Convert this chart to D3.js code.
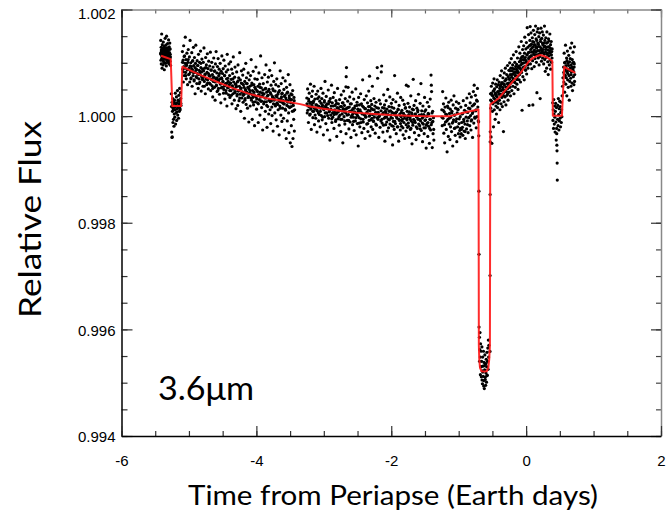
<!DOCTYPE html>
<html>
<head>
<meta charset="utf-8">
<script src="https://cdn.jsdelivr.net/npm/d3@7"></script>
<style>
  html, body { margin: 0; padding: 0; background: #fff; }
  svg { display: block; }
</style>
</head>
<body>
<svg id="chart" width="666" height="514"></svg>
<script>
// Axis ticks and labels
const xTicks = [-6, -4, -2, 0, 2];
const yTicks = [0.994, 0.996, 0.998, 1.000, 1.002];
const xTitle = "Time from Periapse (Earth days)";
const yTitle = "Relative Flux";
const bandLabel = "3.6\u03bcm";

// Photometry: [time from periapse (days), flux offset from 1 (ppm)]
const obsEarly = [[-5.420,1180],[-5.418,1420],[-5.415,1050],[-5.412,1290],[-5.410,980],[-5.407,1210],[-5.404,1540],[-5.401,1120],[-5.398,900],[-5.395,1340],[-5.392,1060],[-5.389,1250],[-5.386,1170],[-5.383,960],[-5.380,1390],[-5.377,1100],[-5.374,1230],[-5.371,1010],[-5.368,1310],[-5.365,870],[-5.362,1150],[-5.359,1270],[-5.356,1080],[-5.353,1460],[-5.350,1190],[-5.347,990],[-5.344,1330],[-5.341,1120],[-5.338,1220],[-5.335,940],[-5.332,1500],[-5.329,1160],[-5.326,1040],[-5.323,1280],[-5.320,1110],[-5.317,1360],[-5.314,1200],[-5.311,1010],[-5.308,1250],[-5.305,1090],[-5.302,1430],[-5.299,1140],[-5.296,980],[-5.293,1300],[-5.290,1070],[-5.287,1190],[-5.284,1370],[-5.281,1030],[-5.278,1260],[-5.275,1110],[-5.272,950],
[-5.416,1160],[-5.409,1240],[-5.403,1080],[-5.397,1190],[-5.391,1130],[-5.385,1270],[-5.379,1040],[-5.373,1150],[-5.367,1210],[-5.361,1000],[-5.355,1120],[-5.349,1260],[-5.343,1070],[-5.337,1180],[-5.331,1100],[-5.325,1230],[-5.319,1050],[-5.313,1140],[-5.307,1190],[-5.301,1020],[-5.295,1110],[-5.289,1250],[-5.283,1080],[-5.277,1160]];

const obsDip1 = [[-5.262,420],[-5.258,180],[-5.255,-300],[-5.252,-400],[-5.250,260],[-5.247,-390],[-5.244,90],[-5.240,330],[-5.237,-120],[-5.233,150],[-5.229,-60],[-5.226,240],[-5.222,-190],[-5.218,40],[-5.214,300],[-5.210,-20],[-5.206,120],[-5.202,430],[-5.198,-150],[-5.194,210],[-5.190,60],[-5.186,360],[-5.182,-80],[-5.178,250],[-5.174,140],[-5.170,480],[-5.166,20],[-5.162,300],[-5.158,170],[-5.154,-40],[-5.150,390],[-5.146,230],[-5.142,90],[-5.138,520],[-5.134,280],[-5.130,120],[-5.126,440],[-5.122,330],[-5.118,200],
[-5.245,210],[-5.231,120],[-5.219,260],[-5.205,170],[-5.191,230],[-5.177,80],[-5.163,190],[-5.149,280],[-5.135,150],[-5.121,240]];

const obsMid1 = [[-5.097,1210],[-5.092,880],[-5.087,1050],[-5.083,640],[-5.078,1320],[-5.073,930],[-5.068,760],[-5.064,1130],[-5.059,990],[-5.054,1480],[-5.049,820],[-5.044,1060],[-5.040,700],[-5.035,950],[-5.030,1180],[-5.025,870],[-5.020,590],[-5.015,1010],[-5.010,1250],[-5.005,780],
[-4.998,900],[-4.993,1110],[-4.988,640],[-4.983,1420],[-4.978,830],[-4.973,1000],[-4.968,720],[-4.963,930],[-4.958,1190],[-4.953,560],[-4.948,870],[-4.943,1040],[-4.938,760],[-4.933,1290],[-4.928,950],[-4.923,680],[-4.918,1100],[-4.913,820],[-4.908,420],[-4.903,990],
[-4.898,1330],[-4.893,740],[-4.888,880],[-4.883,610],[-4.878,1040],[-4.873,800],[-4.868,950],[-4.863,520],[-4.858,1160],[-4.853,700],[-4.848,860],[-4.843,1010],[-4.838,640],[-4.833,780],[-4.828,1220],[-4.823,910],[-4.818,470],[-4.813,830],[-4.808,1070],[-4.803,690],
[-4.797,880],[-4.792,560],[-4.787,1010],[-4.782,740],[-4.777,1280],[-4.772,650],[-4.767,900],[-4.762,790],[-4.757,420],[-4.752,1100],[-4.747,700],[-4.742,960],[-4.737,590],[-4.732,820],[-4.727,1170],[-4.722,680],[-4.717,890],[-4.712,510],[-4.707,1030],[-4.702,760],
[-4.697,620],[-4.692,940],[-4.687,750],[-4.682,1200],[-4.677,480],[-4.672,860],[-4.667,690],[-4.662,1010],[-4.657,570],[-4.652,780],[-4.647,360],[-4.642,920],[-4.637,650],[-4.632,1090],[-4.627,730],[-4.622,540],[-4.617,850],[-4.612,300],[-4.607,980],[-4.602,700],
[-4.597,1210],[-4.592,580],[-4.587,810],[-4.582,460],[-4.577,930],[-4.572,670],[-4.567,1080],[-4.562,520],[-4.557,760],[-4.552,880],[-4.547,410],[-4.542,700],[-4.537,990],[-4.532,600],[-4.527,250],[-4.522,840],[-4.517,720],[-4.512,1130],[-4.507,540],[-4.502,800],
[-4.497,640],[-4.492,890],[-4.487,430],[-4.482,1050],[-4.477,560],[-4.472,760],[-4.467,320],[-4.462,940],[-4.457,610],[-4.452,480],[-4.447,830],[-4.442,700],[-4.437,190],[-4.432,1160],[-4.427,530],[-4.422,870],[-4.417,650],[-4.412,400],[-4.407,980],[-4.402,590],
[-4.397,760],[-4.392,350],[-4.387,620],[-4.382,1020],[-4.377,480],[-4.372,690],[-4.367,880],[-4.362,230],[-4.357,570],[-4.352,800],[-4.347,420],[-4.342,1110],[-4.337,640],[-4.332,510],[-4.327,300],[-4.322,730],[-4.317,920],[-4.312,460],[-4.307,600],[-4.302,140],
[-4.297,550],[-4.292,830],[-4.287,380],[-4.282,640],[-4.277,200],[-4.272,960],[-4.267,470],[-4.262,720],[-4.257,290],[-4.252,560],[-4.247,1190],[-4.242,410],[-4.237,680],[-4.232,90],[-4.227,520],[-4.222,850],[-4.217,340],[-4.212,610],[-4.207,450],[-4.202,770],
[-4.197,260],[-4.192,590],[-4.187,880],[-4.182,410],[-4.177,-40],[-4.172,650],[-4.167,330],[-4.162,500],[-4.157,990],[-4.152,220],[-4.147,720],[-4.142,450],[-4.137,610],[-4.132,150],[-4.127,540],[-4.122,810],[-4.117,370],[-4.112,-110],[-4.107,680],[-4.102,430],
[-4.097,560],[-4.092,190],[-4.087,760],[-4.082,420],[-4.077,1060],[-4.072,300],[-4.067,620],[-4.062,-60],[-4.057,480],[-4.052,350],[-4.047,840],[-4.042,210],[-4.037,590],[-4.032,400],[-4.027,-180],[-4.022,700],[-4.017,270],[-4.012,510],[-4.007,920],[-4.002,360],
[-3.997,130],[-3.992,480],[-3.987,690],[-3.982,250],[-3.977,560],[-3.972,-120],[-3.967,400],[-3.962,810],[-3.957,310],[-3.952,600],[-3.947,20],[-3.942,450],[-3.937,1130],[-3.932,280],[-3.927,530],[-3.922,160],[-3.917,720],[-3.912,370],[-3.907,-260],[-3.902,490],
[-3.897,610],[-3.892,230],[-3.887,420],[-3.882,-60],[-3.877,780],[-3.872,340],[-3.867,90],[-3.862,520],[-3.857,960],[-3.852,270],[-3.847,450],[-3.842,-210],[-3.837,640],[-3.832,180],[-3.827,390],[-3.822,730],[-3.817,40],[-3.812,500],[-3.807,300],[-3.802,860],
[-3.797,120],[-3.792,440],[-3.787,-140],[-3.782,580],[-3.777,290],[-3.772,760],[-3.767,10],[-3.762,370],[-3.757,510],[-3.752,-280],[-3.747,230],[-3.742,650],[-3.737,330],[-3.732,1000],[-3.727,60],[-3.722,470],[-3.717,190],[-3.712,590],[-3.707,-70],[-3.702,380],
[-3.697,700],[-3.692,250],[-3.687,-190],[-3.682,410],[-3.677,120],[-3.672,560],[-3.667,320],[-3.662,-350],[-3.657,480],[-3.652,190],[-3.647,850],[-3.642,270],[-3.637,20],[-3.632,610],[-3.627,360],[-3.622,-100],[-3.617,430],[-3.612,150],[-3.607,720],[-3.602,290],
[-3.597,-40],[-3.592,500],[-3.587,230],[-3.582,-260],[-3.577,390],[-3.572,660],[-3.567,110],[-3.562,340],[-3.557,-420],[-3.552,540],[-3.547,200],[-3.542,-90],[-3.537,450],[-3.532,290],[-3.527,780],[-3.522,60],[-3.517,-310],[-3.512,380],[-3.507,160],[-3.502,590],[-3.497,-500],[-3.492,250],[-3.487,420],[-3.482,-180],[-3.477,310],[-3.472,-570],[-3.467,90],[-3.462,480],[-3.457,-420],[-3.452,200],[-3.447,-60],[-3.442,350],[-3.437,-280],[-3.432,120],
[-5.095,1010],[-5.083,830],[-5.071,1120],[-5.059,900],[-5.047,760],[-5.035,980],[-5.023,870],[-5.011,1060],
[-4.995,790],[-4.983,940],[-4.971,700],[-4.959,880],[-4.947,1030],[-4.935,820],[-4.923,660],[-4.911,910],
[-4.895,860],[-4.883,720],[-4.871,950],[-4.859,780],[-4.847,610],[-4.835,830],[-4.823,990],[-4.811,740],
[-4.795,690],[-4.783,850],[-4.771,560],[-4.759,780],[-4.747,910],[-4.735,700],[-4.723,620],[-4.711,800],
[-4.695,760],[-4.683,600],[-4.671,870],[-4.659,680],[-4.647,520],[-4.635,730],[-4.623,840],[-4.611,640],
[-4.595,570],[-4.583,720],[-4.571,480],[-4.559,660],[-4.547,800],[-4.535,610],[-4.523,530],[-4.511,700],
[-4.495,650],[-4.483,500],[-4.471,760],[-4.459,580],[-4.447,430],[-4.435,620],[-4.423,710],[-4.411,540],
[-4.395,480],[-4.383,620],[-4.371,390],[-4.359,560],[-4.347,700],[-4.335,510],[-4.323,440],[-4.311,600],
[-4.295,560],[-4.283,410],[-4.271,660],[-4.259,480],[-4.247,340],[-4.235,530],[-4.223,620],[-4.211,450],
[-4.195,390],[-4.183,540],[-4.171,300],[-4.159,470],[-4.147,610],[-4.135,430],[-4.123,350],[-4.111,510],
[-4.095,480],[-4.083,340],[-4.071,580],[-4.059,400],[-4.047,260],[-4.035,450],[-4.023,540],[-4.011,370],
[-3.995,320],[-3.983,460],[-3.971,230],[-3.959,400],[-3.947,540],[-3.935,360],[-3.923,280],[-3.911,430],
[-3.895,410],[-3.883,270],[-3.871,510],[-3.859,340],[-3.847,200],[-3.835,380],[-3.823,470],[-3.811,300],
[-3.795,270],[-3.783,410],[-3.771,170],[-3.759,350],[-3.747,480],[-3.735,300],[-3.723,220],[-3.711,380],
[-3.695,360],[-3.683,220],[-3.671,450],[-3.659,290],[-3.647,150],[-3.635,330],[-3.623,420],[-3.611,250],
[-3.595,230],[-3.583,370],[-3.571,130],[-3.559,300],[-3.547,430],[-3.535,260],[-3.523,180],[-3.511,340],
[-3.495,310],[-3.483,180],[-3.471,400],[-3.459,240],[-3.447,100],[-3.439,290]];

const obsMid2 = [[-3.252,340],[-3.246,60],[-3.240,510],[-3.234,190],[-3.228,-120],[-3.222,280],[-3.216,430],[-3.210,20],[-3.204,240],[-3.198,600],[-3.192,130],[-3.186,-250],[-3.180,370],[-3.174,180],[-3.168,470],[-3.162,-30],
[-3.156,250],[-3.150,90],[-3.144,560],[-3.138,-160],[-3.132,320],[-3.126,140],[-3.120,-40],[-3.114,410],[-3.108,210],[-3.102,-300],[-3.096,100],[-3.090,470],[-3.084,190],[-3.078,-90],[-3.072,360],[-3.066,30],
[-3.060,280],[-3.054,-200],[-3.048,150],[-3.042,520],[-3.036,10],[-3.030,330],[-3.024,-70],[-3.018,200],[-3.012,430],[-3.006,-350],[-3.000,120],[-2.994,260],[-2.988,-10],[-2.982,650],[-2.976,180],[-2.970,-140],
[-2.964,370],[-2.958,60],[-2.952,230],[-2.946,-260],[-2.940,140],[-2.934,490],[-2.928,-40],[-2.922,280],[-2.916,100],[-2.910,-450],[-2.904,330],[-2.898,20],[-2.892,190],[-2.886,580],[-2.880,-120],[-2.874,250],
[-2.868,-20],[-2.862,350],[-2.856,110],[-2.850,-230],[-2.844,440],[-2.838,70],[-2.832,200],[-2.826,-100],[-2.820,290],[-2.814,40],[-2.808,-380],[-2.802,160],[-2.796,520],[-2.790,-50],[-2.784,230],[-2.778,90],
[-2.772,-170],[-2.766,310],[-2.760,20],[-2.754,180],[-2.748,-290],[-2.742,400],[-2.736,100],[-2.730,-60],[-2.724,250],[-2.718,-500],[-2.712,140],[-2.706,470],[-2.700,-10],[-2.694,200],[-2.688,-150],[-2.682,330],[-2.676,60],[-2.670,-330],[-2.668,740],[-2.664,910],[-2.658,150],[-2.672,550],
[-2.652,-80],[-2.646,280],[-2.640,540],[-2.634,30],[-2.628,-240],[-2.622,170],[-2.616,360],[-2.610,-110],[-2.604,90],[-2.598,-400],[-2.592,230],[-2.586,10],[-2.580,450],[-2.574,-160],[-2.568,140],[-2.562,-20],
[-2.556,320],[-2.550,-270],[-2.544,80],[-2.538,190],[-2.532,-90],[-2.526,510],[-2.520,-350],[-2.514,40],[-2.508,260],[-2.502,-140],[-2.496,130],[-2.490,-560],[-2.484,350],[-2.478,-30],[-2.472,210],[-2.466,-200],
[-2.460,90],[-2.454,420],[-2.448,-120],[-2.442,230],[-2.436,-310],[-2.430,40],[-2.424,680],[-2.418,-60],[-2.412,170],[-2.406,-230],[-2.400,310],[-2.394,20],[-2.388,-420],[-2.382,140],[-2.376,-10],[-2.370,380],
[-2.364,-150],[-2.358,60],[-2.352,250],[-2.346,-290],[-2.340,110],[-2.334,470],[-2.328,-80],[-2.322,750],[-2.318,180],[-2.316,-370],[-2.310,30],[-2.304,290],[-2.298,-200],[-2.292,140],[-2.286,-40],[-2.280,560],[-2.274,-250],
[-2.268,120],[-2.262,-100],[-2.256,330],[-2.250,-20],[-2.244,190],[-2.238,-320],[-2.232,70],[-2.226,260],[-2.220,-170],[-2.214,40],[-2.208,910],[-2.202,710],[-2.196,-60],[-2.190,150],[-2.184,-400],[-2.178,300],[-2.172,10],[-2.166,-210],[-2.160,230],[-2.154,-90],[-2.148,830],[-2.142,940],
[-2.136,-130],[-2.130,160],[-2.124,-300],[-2.118,60],[-2.112,400],[-2.106,-40],[-2.100,210],[-2.094,-470],[-2.088,90],[-2.082,-160],[-2.076,290],[-2.070,-20],[-2.064,130],[-2.058,-280],[-2.052,500],
[-2.046,30],[-2.040,-220],[-2.034,180],[-2.028,-70],[-2.022,360],[-2.016,-390],[-2.010,100],[-2.004,-30],[-1.998,240],[-1.992,-180],[-1.986,70],[-1.980,-540],[-1.974,310],[-1.968,-100],[-1.962,150],[-1.956,-250],[-1.950,760],
[-1.944,20],[-1.938,-140],[-1.932,270],[-1.926,-330],[-1.920,80],[-1.914,-40],[-1.908,430],[-1.902,-200],[-1.896,120],[-1.890,-470],[-1.884,200],[-1.878,-80],[-1.872,40],[-1.866,-260],[-1.860,350],[-1.854,-10],
[-1.848,-190],[-1.842,110],[-1.836,-60],[-1.830,300],[-1.824,-350],[-1.818,50],[-1.812,-120],[-1.806,220],[-1.800,-420],[-1.794,10],[-1.788,160],[-1.782,-280],[-1.776,580],[-1.770,-50],[-1.764,90],[-1.758,-210],
[-1.752,240],[-1.748,560],[-1.746,-130],[-1.740,30],[-1.734,-400],[-1.728,170],[-1.722,-30],[-1.716,-250],[-1.710,380],[-1.704,-90],[-1.698,60],[-1.692,-520],[-1.686,130],[-1.680,-170],[-1.674,690],[-1.668,-60],[-1.662,200],
[-1.656,-310],[-1.650,40],[-1.644,-120],[-1.638,290],[-1.632,-440],[-1.626,-10],[-1.620,150],[-1.614,-230],[-1.608,80],[-1.602,-60],[-1.596,410],[-1.590,-360],[-1.584,20],[-1.578,-180],[-1.572,240],[-1.566,-90],[-1.560,610],
[-1.554,-270],[-1.548,100],[-1.542,-40],[-1.536,-480],[-1.530,190],[-1.524,-150],[-1.518,30],[-1.512,-330],[-1.506,350],[-1.500,-80],[-1.494,-220],[-1.488,120],[-1.482,-600],[-1.476,0],[-1.470,-140],[-1.464,260],
[-1.458,-380],[-1.452,50],[-1.446,-190],[-1.440,180],[-1.434,-510],[-1.428,-60],[-1.422,320],[-1.416,-260],[-1.410,770],[-1.406,580],[-1.402,460],[-1.398,-120],[-1.392,-590],[-1.386,90],[-1.380,-330],[-1.374,-30],[-1.368,-450],
[-3.249,230],[-3.237,110],[-3.225,320],[-3.213,170],[-3.201,40],[-3.189,260],[-3.177,200],[-3.165,90],
[-3.153,280],[-3.141,150],[-3.129,20],[-3.117,210],[-3.105,120],[-3.093,330],[-3.081,60],[-3.069,180],
[-3.051,90],[-3.039,240],[-3.027,170],[-3.015,-20],[-3.003,140],[-2.991,290],[-2.979,60],[-2.967,200],
[-2.955,150],[-2.943,10],[-2.931,230],[-2.919,80],[-2.907,270],[-2.895,130],[-2.883,-50],[-2.871,60],
[-2.859,190],[-2.847,30],[-2.835,120],[-2.823,-70],[-2.811,240],[-2.799,70],[-2.787,150],[-2.775,-10],
[-2.763,110],[-2.751,-60],[-2.739,180],[-2.727,40],[-2.715,250],[-2.703,90],[-2.691,-90],[-2.679,130],
[-2.655,20],[-2.643,160],[-2.631,-80],[-2.619,90],[-2.607,230],[-2.595,-20],[-2.583,110],[-2.571,40],
[-2.559,-100],[-2.547,150],[-2.535,60],[-2.523,-30],[-2.511,200],[-2.499,10],[-2.487,90],[-2.475,-130],
[-2.463,120],[-2.451,-50],[-2.439,60],[-2.427,190],[-2.415,-110],[-2.403,30],[-2.391,140],[-2.379,-20],
[-2.361,70],[-2.349,-140],[-2.337,180],[-2.325,0],[-2.313,100],[-2.301,-70],[-2.289,220],[-2.277,30],
[-2.265,-90],[-2.253,120],[-2.241,40],[-2.229,-150],[-2.217,160],[-2.205,-30],[-2.193,70],[-2.181,-10],
[-2.151,100],[-2.139,-60],[-2.127,40],[-2.115,-170],[-2.103,150],[-2.091,-20],[-2.079,60],[-2.067,-110],
[-2.043,-60],[-2.031,90],[-2.019,-150],[-2.007,20],[-1.995,170],[-1.983,-40],[-1.971,-190],[-1.959,50],
[-1.947,-100],[-1.935,60],[-1.923,-10],[-1.911,-200],[-1.899,130],[-1.887,-60],[-1.875,20],[-1.863,-140],
[-1.851,70],[-1.839,-90],[-1.827,-220],[-1.815,10],[-1.803,-40],[-1.791,150],[-1.779,-160],[-1.767,-70],
[-1.755,-10],[-1.743,-190],[-1.731,80],[-1.719,-60],[-1.707,-230],[-1.695,20],[-1.683,-120],[-1.671,120],
[-1.653,-90],[-1.641,40],[-1.629,-200],[-1.617,-20],[-1.605,110],[-1.593,-150],[-1.581,-60],[-1.569,-240],
[-1.551,30],[-1.539,-130],[-1.527,-10],[-1.515,-220],[-1.503,90],[-1.491,-70],[-1.479,-170],[-1.467,0],
[-1.455,-120],[-1.443,40],[-1.431,-230],[-1.419,-60],[-1.407,-160],[-1.395,60],[-1.383,-100],[-1.371,-250]];

const obsPreTransit = [[-1.250,120],[-1.244,-180],[-1.238,460],[-1.232,-40],[-1.226,230],[-1.220,-320],[-1.214,80],[-1.208,-500],[-1.202,170],[-1.196,-110],[-1.190,340],[-1.184,-250],[-1.178,30],[-1.172,-670],[-1.166,190],[-1.160,-60],[-1.154,-380],[-1.148,260],[-1.142,-150],[-1.136,50],[-1.130,-440],[-1.124,130],[-1.118,-20],[-1.112,300],[-1.106,-290],[-1.100,90],[-1.094,-130],[-1.088,-560],[-1.082,210],[-1.076,-70],[-1.070,380],[-1.064,-230],[-1.058,20],[-1.052,-360],[-1.046,150],[-1.040,-100],[-1.034,270],[-1.028,-480],[-1.022,60],[-1.016,-200],[-1.010,120],[-1.004,-330],[-0.998,240],[-0.992,-50],[-0.986,-270],[-0.980,-390],[-0.974,-230],[-0.968,170],[-0.962,-330],[-0.956,-120],[-0.950,40],[-0.944,-210],[-0.938,-360],[-0.932,290],[-0.926,-60],[-0.920,-280],[-0.914,110],[-0.908,-150],[-0.902,-420],[-0.896,200],[-0.890,-20],[-0.884,-240],[-0.878,340],[-0.872,-90],[-0.866,70],[-0.860,-310],[-0.854,150],[-0.848,-30],[-0.842,420],[-0.836,-180],[-0.830,250],[-0.824,10],[-0.818,-260],[-0.812,360],[-0.806,-70],[-0.800,190],[-0.794,-400],[-0.788,80],[-0.782,460],[-0.776,-130],[-0.770,580],[-0.764,230],[-0.758,-40],[-0.752,390],[-0.746,100],[-0.740,-220],[-0.734,300],[-0.728,-10],[-0.722,520],[-0.716,170],[-0.710,-90],
[-1.247,-20],[-1.229,110],[-1.211,-160],[-1.193,40],[-1.175,-90],[-1.157,160],[-1.139,-40],[-1.121,-200],[-1.103,60],[-1.085,-110],[-1.067,20],[-1.049,-220],[-1.031,-50],[-1.013,130],[-0.995,-140],[-0.977,-10],[-0.959,-250],[-0.941,50],[-0.923,-100],[-0.905,-290],[-0.887,80],[-0.869,-160],[-0.851,-30],[-0.833,140],[-0.815,-90],[-0.797,50],[-0.779,210],[-0.761,-20],[-0.743,120],[-0.725,280]];

const obsTransit = [[-0.704,-107],[-0.702,-370],[-0.700,-1408],[-0.699,-2592],[-0.698,-3957],
[-0.692,-4150],[-0.688,-4380],[-0.684,-4060],[-0.680,-4520],[-0.676,-4270],[-0.672,-4700],[-0.668,-4410],[-0.664,-4890],[-0.660,-4600],[-0.656,-4330],[-0.652,-4780],[-0.648,-5020],[-0.644,-4520],[-0.640,-4690],[-0.636,-4880],[-0.632,-4410],[-0.628,-4960],[-0.624,-4620],[-0.620,-5110],[-0.616,-4760],[-0.612,-4480],[-0.608,-4900],[-0.604,-4650],[-0.600,-5050],[-0.596,-4820],[-0.592,-4560],[-0.588,-4990],[-0.584,-4700],[-0.580,-4430],[-0.576,-4860],[-0.572,-4600],[-0.568,-4350],[-0.564,-4750],[-0.560,-4200],[-0.556,-4520],[-0.552,-4300],
[-0.690,-4600],[-0.678,-4850],[-0.666,-4700],[-0.654,-4950],[-0.642,-4800],[-0.630,-5060],[-0.618,-4680],[-0.606,-4940],[-0.594,-4640],[-0.582,-4870],
[-0.536,-4413],[-0.535,-2991],[-0.534,-1470],[-0.533,-483],[-0.532,-295]];

const obsPostTransit = [[-0.528,420],[-0.524,150],[-0.520,-390],[-0.516,560],[-0.512,280],[-0.508,-510],[-0.504,390],[-0.500,90],[-0.496,620],[-0.492,230],[-0.488,470],[-0.484,-200],[-0.480,340],[-0.476,700],[-0.472,120],[-0.468,510],[-0.464,260],[-0.460,-60],[-0.456,430],[-0.452,600],[-0.448,190],[-0.444,380],[-0.440,40],[-0.436,550],[-0.432,300],[-0.428,680],[-0.424,160],[-0.420,460],[-0.416,240],[-0.412,590],[-0.408,-120],[-0.404,410],
[-0.400,640],[-0.396,300],[-0.392,520],[-0.388,120],[-0.384,760],[-0.380,410],[-0.376,590],[-0.372,230],[-0.368,480],[-0.364,850],[-0.360,350],[-0.356,620],[-0.352,180],[-0.348,540],[-0.344,720],[-0.340,430],[-0.336,-290],[-0.332,600],[-0.328,270],[-0.324,810],[-0.320,490],[-0.316,660],[-0.312,360],[-0.308,900],[-0.304,550],[-0.300,210],[-0.296,700],[-0.292,460],[-0.288,780],[-0.284,390],[-0.280,610],[-0.276,950],[-0.272,520],[-0.268,300],[-0.264,740],[-0.260,580],[-0.256,860],[-0.252,450],
[-0.248,690],[-0.244,1000],[-0.240,540],[-0.236,780],[-0.232,380],[-0.228,900],[-0.224,620],[-0.220,1080],[-0.216,730],[-0.212,480],[-0.208,850],[-0.204,660],[-0.200,960],[-0.196,560],[-0.192,790],[-0.188,1150],[-0.184,700],[-0.180,420],[-0.176,880],[-0.172,640],[-0.168,1010],[-0.164,760],[-0.160,540],[-0.156,930],[-0.152,820],[-0.148,1210],[-0.144,690],[-0.140,970],[-0.136,600],[-0.132,860],[-0.128,1090],[-0.124,750],[-0.120,500],[-0.116,920],[-0.112,810],[-0.108,1300],[-0.104,680],
[-0.100,1020],[-0.096,780],[-0.092,1180],[-0.088,900],[-0.084,640],[-0.080,1080],[-0.076,960],[-0.072,1400],[-0.068,820],[-0.064,1110],[-0.060,110],[-0.056,990],[-0.052,1250],[-0.048,740],[-0.044,1060],[-0.040,910],[-0.036,1320],[-0.032,1000],[-0.028,680],[-0.024,1180],[-0.020,1480],[-0.016,930],[-0.012,1100],[-0.008,860],[-0.004,1260],[0.000,1040],[0.004,1380],[0.008,790],[0.012,1150],[0.016,1660],[0.020,1000],[0.024,1290],[0.028,900],[0.032,1190],[0.036,1530],[0.040,1070],[0.044,200],[0.048,1320],
[0.052,1110],[0.056,1420],[0.060,1680],[0.064,980],[0.068,1250],[0.072,1560],[0.076,1130],[0.080,1350],[0.084,890],[0.088,1200],[0.092,1470],[0.096,1040],[0.100,210],[0.104,1300],[0.108,1610],[0.112,1160],[0.116,1390],[0.120,930],[0.124,1240],[0.128,1530],[0.132,1080],[0.136,1330],[0.140,1690],[0.144,1200],[0.148,1450],[0.152,1010],[0.156,1280],[0.160,440],[0.164,1580],[0.168,1150],[0.172,1370],[0.176,1640],[0.180,1090],[0.184,1310],[0.188,1490],[0.192,960],[0.196,1230],[0.200,1560],[0.204,1120],[0.208,330],[0.212,1400],[0.216,1180],[0.220,1650],[0.224,1270],[0.228,1030],[0.232,1460],[0.236,1210],[0.240,1580],[0.244,1090],[0.248,1340],
[0.252,1250],[0.256,1520],[0.260,980],[0.264,1370],[0.268,1160],[0.272,1690],[0.276,1060],[0.280,1310],[0.284,840],[0.288,1200],[0.292,1470],[0.296,1100],[0.300,1290],[0.304,900],[0.308,1580],[0.312,1160],[0.316,1380],[0.320,1020],[0.324,1240],[0.328,780],[0.332,1450],[0.336,1130],[0.340,1300],[0.344,960],[0.348,1190],[0.352,1540],[0.356,1050],[0.360,1270],[0.364,880],[0.368,1150],[0.372,1400],[0.376,1010],[0.380,1210],[0.384,1090],
[-0.526,300],[-0.514,430],[-0.502,250],[-0.490,380],[-0.478,480],[-0.466,320],[-0.454,410],[-0.442,270],[-0.430,360],[-0.418,450],[-0.406,300],
[-0.394,470],[-0.382,560],[-0.370,410],[-0.358,630],[-0.346,500],[-0.334,380],[-0.322,590],[-0.310,460],[-0.298,680],[-0.286,540],[-0.274,420],[-0.262,620],
[-0.250,700],[-0.238,850],[-0.226,640],[-0.214,780],[-0.202,900],[-0.190,700],[-0.178,820],[-0.166,630],[-0.154,760],[-0.142,880],[-0.130,690],[-0.118,820],[-0.106,940],
[-0.094,900],[-0.082,1040],[-0.070,860],[-0.058,990],[-0.046,1120],[-0.034,920],[-0.022,1060],[-0.010,870],[0.002,1010],[0.014,1150],[0.026,960],[0.038,1090],
[0.050,1200],[0.062,1330],[0.074,1130],[0.086,1280],[0.098,1400],[0.110,1210],[0.122,1340],[0.134,1150],[0.146,1290],[0.158,1420],[0.170,1230],[0.182,1350],[0.194,1170],[0.206,1300],[0.218,1440],[0.230,1240],[0.242,1370],
[0.254,1190],[0.266,1300],[0.278,1420],[0.290,1250],[0.302,1370],[0.314,1180],[0.326,1300],[0.338,1410],[0.350,1220],[0.362,1340],[0.374,1150],[0.386,1260]];

const obsDip2 = [[0.394,250],[0.398,-80],[0.402,120],[0.406,-230],[0.410,310],[0.414,40],[0.418,-150],[0.422,190],[0.426,-20],[0.430,-300],[0.434,90],[0.438,240],[0.442,-110],[0.446,-450],[0.450,160],[0.452,-230],[0.454,-330],[0.456,-545],[0.458,-650],[0.460,-880],[0.462,-1200],[0.466,-60],[0.470,200],[0.474,-180],[0.478,330],[0.482,30],[0.486,-260],[0.490,140],[0.494,-90],[0.498,280],[0.502,-40],[0.506,180],[0.510,-200],[0.514,70],[0.518,260],[0.522,-120],[0.526,120],[0.530,-10],[0.534,380],[0.540,560],[0.546,720]];

const obsLate = [[0.556,920],[0.560,640],[0.564,1180],[0.568,780],[0.572,450],[0.576,1010],[0.580,860],[0.584,1330],[0.588,600],[0.592,950],[0.596,720],[0.600,1090],[0.604,380],[0.608,830],[0.612,1220],[0.616,680],[0.620,990],[0.624,540],[0.628,870],[0.632,1140],[0.636,760],[0.640,300],[0.644,1020],[0.648,650],[0.652,900],[0.656,1280],[0.660,710],[0.664,560],[0.668,960],[0.672,830],[0.676,1370],[0.680,620],[0.684,1060],[0.688,480],[0.692,880],[0.696,1200],[0.700,740],[0.704,1010],[0.708,590],[0.712,920],[0.716,1300],[0.720,780],
[0.558,820],[0.570,1000],[0.582,760],[0.594,900],[0.606,1040],[0.618,800],[0.630,950],[0.642,860],[0.654,1080],[0.666,780],[0.678,920],[0.690,1000],[0.702,840],[0.714,980],[0.718,650]];

// Best-fit light-curve model
const modelTime = [-5.414,-5.340,-5.270,-5.246,-5.117,-5.098,-4.950,-4.800,-4.588,-4.341,-4.093,-3.850,-3.599,-3.350,-3.200,-3.006,-2.750,-2.510,-2.250,-2.010,-1.750,-1.520,-1.125,-0.976,-0.850,-0.706,-0.701,-0.695,-0.684,-0.660,-0.622,-0.584,-0.560,-0.547,-0.537,-0.531,-0.470,-0.410,-0.350,-0.285,-0.190,-0.087,0.036,0.100,0.160,0.209,0.260,0.309,0.383,0.389,0.396,0.531,0.565,0.650,0.729];
const modelPpm  = [1132,1100,1070,188,188,926,840,755,644,520,413,335,282,225,180,137,95,62,38,19,8,0,0,50,85,126,-4300,-4560,-4720,-4785,-4790,-4785,-4720,-4560,-4300,220,275,332,420,520,660,802,1020,1090,1127,1146,1128,1102,1039,1030,6,6,926,865,813];

const fromPpm = v => 1 + v * 1e-6;

const plot = { left: 121.5, right: 661, top: 9.5, bottom: 436 };
const x = d3.scaleLinear().domain([-6, 2]).range([plot.left, plot.right]);
const y = d3.scaleLinear().domain([0.994, 1.002]).range([plot.bottom, plot.top]);

const svg = d3.select("#chart");
svg.append("rect").attr("width", 666).attr("height", 514).attr("fill", "#fff");

// Data points
const obs = [].concat(obsEarly, obsDip1, obsMid1, obsMid2, obsPreTransit, obsTransit, obsPostTransit, obsDip2, obsLate);
svg.append("g")
  .selectAll("circle")
  .data(obs)
  .join("circle")
  .attr("cx", d => x(d[0]))
  .attr("cy", d => y(fromPpm(d[1])))
  .attr("r", 1.6)
  .attr("fill", "#000");

// Model curve
const line = d3.line().x(d => x(d[0])).y(d => y(fromPpm(d[1])));
svg.append("path")
  .datum(d3.zip(modelTime, modelPpm))
  .attr("d", line)
  .attr("fill", "none")
  .attr("stroke", "#ff1a1a")
  .attr("stroke-width", 2)
  .attr("stroke-linejoin", "round")
  .attr("opacity", 0.92);

// Axes: ticks point into the plot; minor ticks every half unit
const xMinor = x.ticks(16);
const yMinor = y.ticks(16);

function styleAxis(g, color, width) {
  g.select(".domain").attr("stroke", color).attr("stroke-width", width);
  g.selectAll(".tick line").attr("stroke", color).attr("stroke-width", 1.2);
}

svg.append("g").attr("transform", `translate(${plot.left},0)`)
  .call(d3.axisLeft(y).tickValues(yMinor).tickSize(-6).tickFormat(""))
  .call(g => { g.select(".domain").remove(); g.selectAll(".tick line").attr("stroke", "#333").attr("stroke-width", 1.2); });
svg.append("g").attr("transform", `translate(${plot.right},0)`)
  .call(d3.axisRight(y).tickValues(yMinor).tickSize(-5).tickFormat(""))
  .call(g => { g.select(".domain").remove(); g.selectAll(".tick line").attr("stroke", "#444").attr("stroke-width", 1.2); });
svg.append("g").attr("transform", `translate(0,${plot.bottom})`)
  .call(d3.axisBottom(x).tickValues(xMinor).tickSize(-5).tickFormat(""))
  .call(g => { g.select(".domain").remove(); g.selectAll(".tick line").attr("stroke", "#333").attr("stroke-width", 1.2); });
svg.append("g").attr("transform", `translate(0,${plot.top})`)
  .call(d3.axisTop(x).tickValues(xMinor).tickSize(-4).tickFormat(""))
  .call(g => { g.select(".domain").remove(); g.selectAll(".tick line").attr("stroke", "#666").attr("stroke-width", 1.2); });

const topAxis = svg.append("g").attr("transform", `translate(0,${plot.top})`)
  .call(d3.axisTop(x).tickValues(xTicks).tickSize(-8).tickSizeOuter(0).tickFormat(""));
styleAxis(topAxis, "#888", 1.5);
topAxis.selectAll(".tick line").attr("stroke", "#555");

const rightAxis = svg.append("g").attr("transform", `translate(${plot.right},0)`)
  .call(d3.axisRight(y).tickValues(yTicks).tickSize(-10).tickSizeOuter(0).tickFormat(""));
styleAxis(rightAxis, "#888", 1.5);
rightAxis.selectAll(".tick line").attr("stroke", "#333");

const leftAxis = svg.append("g").attr("transform", `translate(${plot.left},0)`)
  .call(d3.axisLeft(y).tickValues(yTicks).tickSize(-11).tickSizeOuter(0).tickPadding(6).tickFormat(d3.format(".3f")));
styleAxis(leftAxis, "#000", 1.5);
leftAxis.selectAll(".tick line").attr("stroke", "#333");
leftAxis.selectAll("text")
  .attr("font-family", "'Liberation Sans', Arial, sans-serif")
  .attr("font-size", 15)
  .attr("fill", "#000")
  .attr("dy", d => d === 1.002 ? "0.6em" : "0.38em");

const bottomAxis = svg.append("g").attr("transform", `translate(0,${plot.bottom})`)
  .call(d3.axisBottom(x).tickValues(xTicks).tickSize(-10).tickSizeOuter(0).tickPadding(19).tickFormat(d3.format("d")));
styleAxis(bottomAxis, "#000", 1.5);
bottomAxis.selectAll(".tick line").attr("stroke", "#333");
bottomAxis.selectAll("text")
  .attr("font-family", "'Liberation Sans', Arial, sans-serif")
  .attr("font-size", 15)
  .attr("fill", "#000")
  .text(d => d < 0 ? "-" + Math.abs(d) : String(d));

// Titles and band label
svg.append("text")
  .attr("x", (188 + 598) / 2).attr("y", 505)
  .attr("text-anchor", "middle")
  .attr("font-family", "Lato, 'Open Sans', sans-serif")
  .attr("font-size", 27)
  .attr("fill", "#000")
  .attr("textLength", 410).attr("lengthAdjust", "spacingAndGlyphs")
  .text(xTitle);

svg.append("text")
  .attr("transform", "translate(41,219.5) rotate(-90)")
  .attr("text-anchor", "middle")
  .attr("font-family", "Lato, 'Open Sans', sans-serif")
  .attr("font-size", 30)
  .attr("fill", "#000")
  .attr("textLength", 197).attr("lengthAdjust", "spacingAndGlyphs")
  .text(yTitle);

svg.append("text")
  .attr("x", 158).attr("y", 400)
  .attr("font-family", "Lato, 'Open Sans', sans-serif")
  .attr("font-size", 32)
  .attr("fill", "#000")
  .attr("textLength", 96).attr("lengthAdjust", "spacingAndGlyphs")
  .text(bandLabel);
</script>
</body>
</html>
